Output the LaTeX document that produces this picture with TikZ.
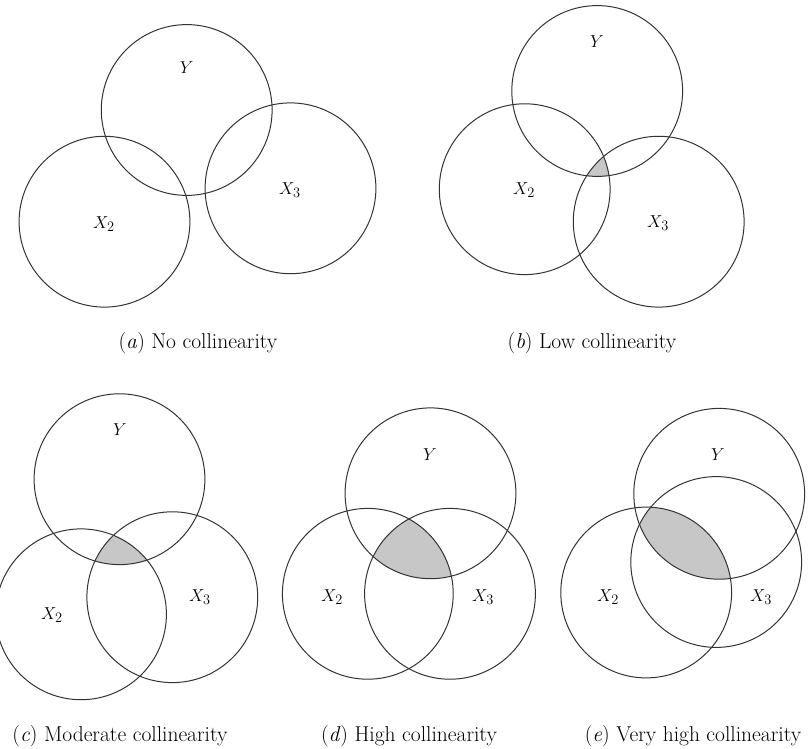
\documentclass[tikz,border=0pt]{standalone}
\usepackage{tikz}
\begin{document}
\begin{tikzpicture}[x=1pt,y=-1pt,
  ring/.style={draw=black!80,line width=1pt},
  overlap/.style={fill=black!22},
  setlabel/.style={font=\fontsize{19}{21}\selectfont},
  caption/.style={font=\fontsize{21.5}{24}\selectfont}]
\def\rad{85.4}
\useasboundingbox (0,0) rectangle (811,749);

% ---------- (a) no collinearity ----------
\coordinate (aY) at (186.7,110);
\coordinate (aX2) at (104.5,221.7);
\coordinate (aX3) at (290.5,188.3);
\foreach \c in {aY,aX2,aX3} \draw[ring] (\c) circle (\rad);
\node[setlabel] (laY) at (186.7,68) {$Y$};
\node[setlabel] (laX2) at (104,224) {$X_2$};
\node[setlabel] (laX3) at (290,190) {$X_3$};
\node[caption] (capa) at (198,343) {(\textit{a}) No collinearity};

% ---------- (b) low collinearity ----------
\coordinate (bY) at (597.2,91);
\coordinate (bX2) at (524.7,189.2);
\coordinate (bX3) at (658.7,221.7);
\begin{scope}
  \clip (bY) circle (\rad);
  \clip (bX2) circle (\rad);
  \fill[overlap] (bX3) circle (\rad);
\end{scope}
\foreach \c in {bY,bX2,bX3} \draw[ring] (\c) circle (\rad);
\node[setlabel] (lbY) at (597,42) {$Y$};
\node[setlabel] (lbX2) at (524,190) {$X_2$};
\node[setlabel] (lbX3) at (658,223) {$X_3$};
\node[caption] (capb) at (592,343) {(\textit{b}) Low collinearity};

% ---------- (c) moderate collinearity ----------
\coordinate (cY) at (119.5,479.2);
\coordinate (cX2) at (81,614.3);
\coordinate (cX3) at (172.3,597.2);
\begin{scope}
  \clip (cY) circle (\rad);
  \clip (cX2) circle (\rad);
  \fill[overlap] (cX3) circle (\rad);
\end{scope}
\foreach \c in {cY,cX2,cX3} \draw[ring] (\c) circle (\rad);
\node[setlabel] (lcY) at (120,430) {$Y$};
\node[setlabel] (lcX2) at (52,615) {$X_2$};
\node[setlabel] (lcX3) at (200,597) {$X_3$};
\node[caption] (capc) at (120,736) {(\textit{c}) Moderate collinearity};

% ---------- (d) high collinearity ----------
\coordinate (dY) at (430.5,493.3);
\coordinate (dX2) at (367.8,593.8);
\coordinate (dX3) at (450,593.8);
\begin{scope}
  \clip (dY) circle (\rad);
  \clip (dX2) circle (\rad);
  \fill[overlap] (dX3) circle (\rad);
\end{scope}
\foreach \c in {dY,dX2,dX3} \draw[ring] (\c) circle (\rad);
\node[setlabel] (ldY) at (430,455) {$Y$};
\node[setlabel] (ldX2) at (332,597) {$X_2$};
\node[setlabel] (ldX3) at (483,597) {$X_3$};
\node[caption] (capd) at (409,736) {(\textit{d}) High collinearity};

% ---------- (e) very high collinearity ----------
\coordinate (eY) at (719.2,493.8);
\coordinate (eX2) at (646.2,592.5);
\coordinate (eX3) at (716.2,562);
\begin{scope}
  \clip (eY) circle (\rad);
  \clip (eX2) circle (\rad);
  \fill[overlap] (eX3) circle (\rad);
\end{scope}
\foreach \c in {eY,eX2,eX3} \draw[ring] (\c) circle (\rad);
\node[setlabel] (leY) at (718,455) {$Y$};
\node[setlabel] (leX2) at (608,597) {$X_2$};
\node[setlabel] (leX3) at (761,597) {$X_3$};
\node[caption] (cape) at (693,736) {(\textit{e}) Very high collinearity};
\end{tikzpicture}
\end{document}
